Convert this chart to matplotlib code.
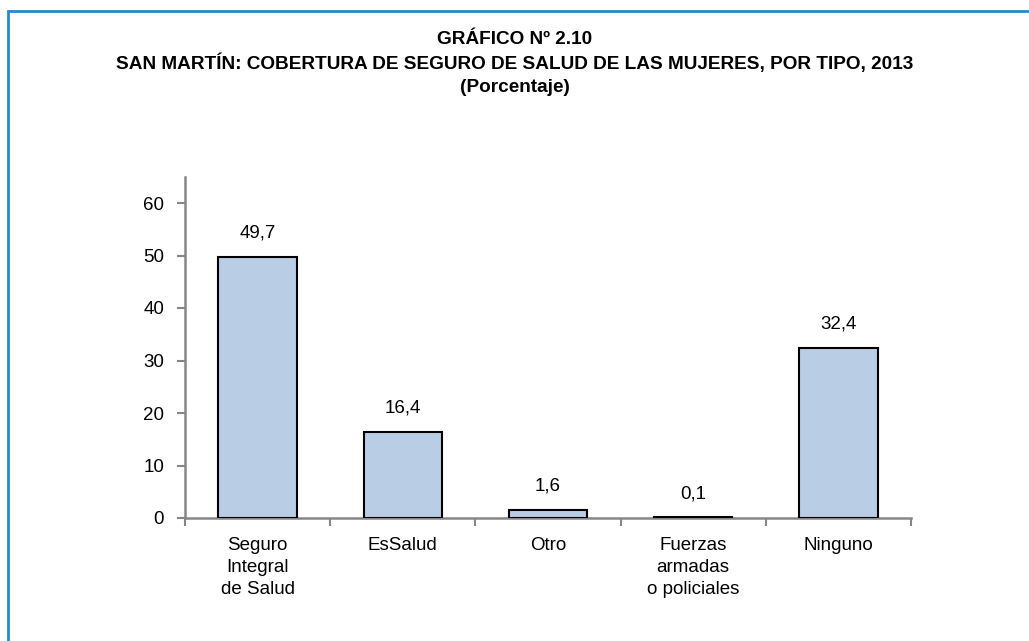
import matplotlib
matplotlib.use("Agg")
import matplotlib.pyplot as plt
from matplotlib.patches import Rectangle
import numpy as np

categories = ["Seguro\nIntegral\nde Salud", "EsSalud", "Otro", "Fuerzas\narmadas\no policiales", "Ninguno"]
values = [49.7, 16.4, 1.6, 0.1, 32.4]
labels = ["49,7", "16,4", "1,6", "0,1", "32,4"]
yticks = [0, 10, 20, 30, 40, 50, 60]

plt.rcParams['font.family'] = ['Liberation Sans', 'DejaVu Sans']

fig = plt.figure(figsize=(10.29, 6.41), dpi=100)

# blue frame around the chart (cut off on right and bottom)
fig.patches.append(Rectangle((8 / 1029, -0.05), 1.1, 1 - 11 / 641 + 0.05,
                             transform=fig.transFigure, fill=False,
                             edgecolor="#1F8DC6", linewidth=2))

fig.text(0.5, 1 - 40 / 641, "GRÁFICO Nº 2.10", ha="center", va="center",
         fontsize=13.7, fontweight="bold")
fig.text(0.5, 1 - 63 / 641, "SAN MARTÍN: COBERTURA DE SEGURO DE SALUD DE LAS MUJERES, POR TIPO, 2013",
         ha="center", va="center", fontsize=13.7, fontweight="bold")
fig.text(0.5, 1 - 87 / 641, "(Porcentaje)", ha="center", va="center",
         fontsize=13.7, fontweight="bold")

ax = fig.add_axes([185 / 1029, 1 - 518 / 641, (911 - 185) / 1029, (518 - 176.75) / 641])

x = np.arange(len(values))
ax.bar(x, values, width=0.54, color="#B9CDE5", edgecolor="black", linewidth=1.5, zorder=3)
for xi, v, lab in zip(x, values, labels):
    ax.text(xi, v + 2.9, lab, ha="center", va="bottom", fontsize=13.5)

ax.set_xlim(-0.5, len(values) - 0.5)
ax.set_ylim(0, 65)
ax.set_yticks(yticks)
ax.set_yticklabels([str(t) for t in yticks], fontsize=13.5)

ax.set_xticks(np.arange(len(values) + 1) - 0.5)
ax.set_xticklabels([])
ax.set_xticks(x, minor=True)
ax.set_xticklabels(categories, minor=True, fontsize=13.5, linespacing=1.38, va="top")
ax.tick_params(axis="x", which="minor", length=0, pad=14)
ax.tick_params(axis="both", which="major", direction="out", length=6, width=1.5, color="#868686")
ax.tick_params(axis="y", pad=9)

for s in ["top", "right"]:
    ax.spines[s].set_visible(False)
for s in ["left", "bottom"]:
    ax.spines[s].set_color("#868686")
    ax.spines[s].set_linewidth(1.8)

fig.savefig("out.png", dpi=100)
